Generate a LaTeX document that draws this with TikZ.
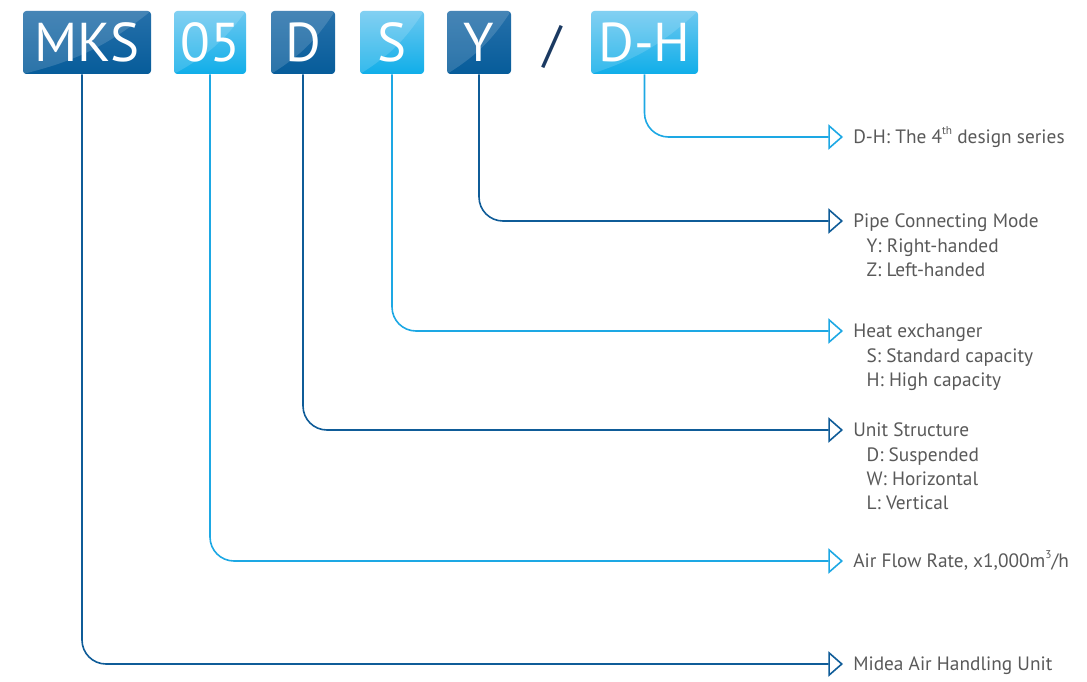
\documentclass[tikz,border=0pt]{standalone}
\usepackage{fontspec}
\setmainfont{PT Sans}
\usetikzlibrary{arrows.meta, positioning}
\definecolor{dkblue}{HTML}{065C9A}
\definecolor{dktop}{HTML}{2670AA}
\definecolor{ltblue}{HTML}{10AEE9}
\definecolor{lttop}{HTML}{6CC8F0}
\definecolor{dkline}{HTML}{0F5C98}
\definecolor{ltline}{HTML}{1DA8E4}
\definecolor{txtgray}{HTML}{595959}
\definecolor{slashcol}{HTML}{1B3A62}
\newcommand{\supx}[1]{\raisebox{0.9ex}{\fontsize{8.5}{8.5}\selectfont #1}}

\tikzset{
    codebox/.style={rounded corners=2.5pt, minimum height=47.25pt, inner sep=0pt, text=white,
        font=\fontsize{41}{41}\selectfont,
        path picture={\fill[white, opacity=0.15] (path picture bounding box.north east) to[bend left=12] (path picture bounding box.south west) -- (path picture bounding box.north west) -- cycle;}},
    darkbox/.style={codebox, top color=dktop, bottom color=dkblue},
    lightbox/.style={codebox, top color=lttop, bottom color=ltblue},
    dkconn/.style={draw=dkline, line width=1.2pt, rounded corners=18pt, -{Triangle[open, length=11pt, width=19pt, line width=1.2pt]}},
    ltconn/.style={dkconn, draw=ltline},
    lbl/.style={anchor=west, inner sep=0pt, yshift=-1.5pt, text=txtgray, text height=10pt, text depth=3.5pt, font=\fontsize{14.5}{18}\selectfont},
    sublbl/.style={inner sep=0pt, anchor=north west, align=left, text=txtgray, font=\fontsize{14.5}{18}\selectfont}
}

\begin{document}
\begin{tikzpicture}[x=0.75pt, y=-0.75pt]
    \useasboundingbox (0,0) rectangle (1087,681);

    % code boxes
    \node[darkbox, minimum width=96pt] (mks) at (87,42.5) {MKS};
    \node[lightbox, minimum width=54pt] (rate) at (210,42.5) {05};
    \node[darkbox, minimum width=48pt] (struct) at (303,42.5) {D};
    \node[lightbox, minimum width=48pt] (exch) at (392,42.5) {S};
    \node[darkbox, minimum width=48pt] (pipe) at (479,42.5) {Y};
    \node[text=slashcol, font=\fontsize{38}{38}\selectfont] (sep) at (552,47) {/};
    \node[lightbox, minimum width=80.25pt] (series) at (644.5,42.5) {D-H};

    % arrow tips
    \coordinate (tSeries) at (843,137);
    \coordinate (tPipe) at (843,221);
    \coordinate (tExch) at (843,331);
    \coordinate (tStruct) at (843,430);
    \coordinate (tRate) at (843,561);
    \coordinate (tMks) at (843,664);

    % labels
    \node[lbl, right=7.5pt of tSeries] (lSeries) {D-H: The 4\supx{th} design series};
    \node[lbl, right=7.5pt of tPipe] (lPipe) {Pipe Connecting Mode};
    \node[sublbl, below right=4.5pt and 10pt of lPipe.south west] (lPipeSub) {Y: Right-handed\\Z: Left-handed};
    \node[lbl, right=7.5pt of tExch] (lExch) {Heat exchanger};
    \node[sublbl, below right=4.5pt and 10pt of lExch.south west] (lExchSub) {S: Standard capacity\\H: High capacity};
    \node[lbl, right=7.5pt of tStruct] (lStruct) {Unit Structure};
    \node[sublbl, below right=4.5pt and 10pt of lStruct.south west] (lStructSub) {D: Suspended\\W: Horizontal\\L: Vertical};
    \node[lbl, right=7.5pt of tRate] (lRate) {Air Flow Rate, x1,000m\supx{3}/h};
    \node[lbl, right=7.5pt of tMks] (lMks) {Midea Air Handling Unit};

    % connectors
    \draw[ltconn] (series.south) |- (tSeries);
    \draw[dkconn] (pipe.south) |- (tPipe);
    \draw[ltconn] (exch.south) |- (tExch);
    \draw[dkconn] (struct.south) |- (tStruct);
    \draw[ltconn] (rate.south) |- (tRate);
    \draw[dkconn] ([xshift=-3.75pt]mks.south) |- (tMks);
\end{tikzpicture}
\end{document}
